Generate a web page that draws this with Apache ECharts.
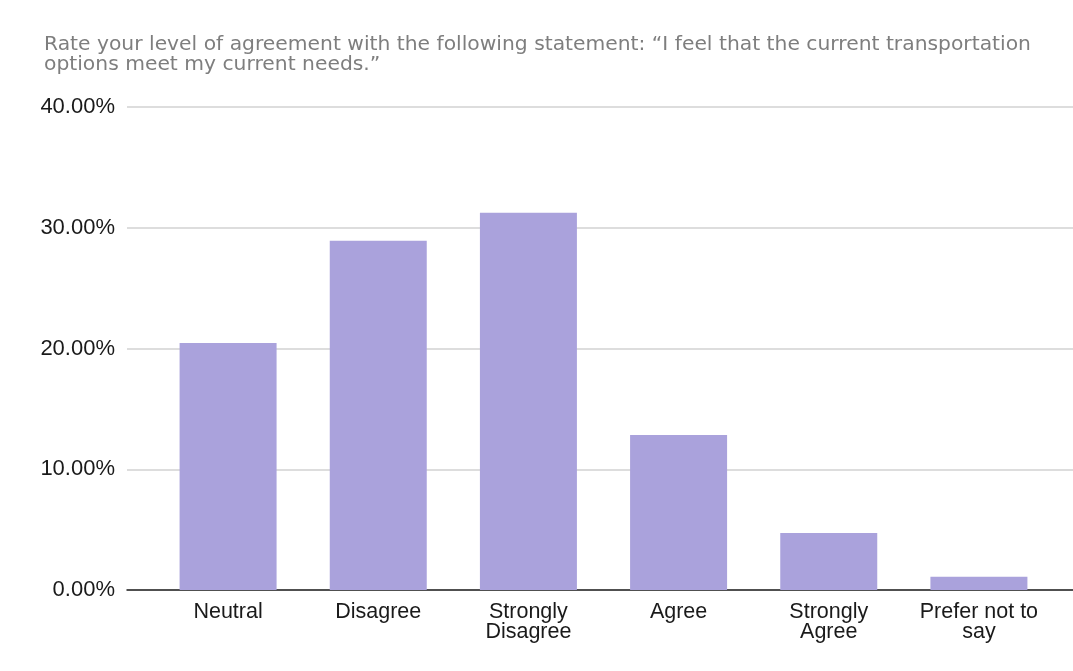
<!DOCTYPE html>
<html>
<head>
<meta charset="utf-8">
<script src="https://cdn.jsdelivr.net/npm/echarts@6/dist/echarts.min.js"></script>
<style>html,body{margin:0;padding:0;background:#fff;}#chart{width:1073px;height:671px;}</style>
</head>
<body>
<div id="chart"></div>
<script>
const titleText = 'Rate your level of agreement with the following statement: \u201CI feel that the current transportation\noptions meet my current needs.\u201D';
const categories = ['Neutral', 'Disagree', 'Strongly\nDisagree', 'Agree', 'Strongly\nAgree', 'Prefer not to\nsay'];
const percentages = [20.46, 28.93, 31.25, 12.84, 4.72, 1.10];
const yMin = 0, yMax = 40, yStep = 10;

const chart = echarts.init(document.getElementById('chart'));
chart.setOption({
  backgroundColor: '#ffffff',
  animation: false,
  title: {
    text: titleText,
    left: 39,
    top: 30,
    textStyle: { fontFamily: 'DejaVu Sans', fontSize: 20.3, fontWeight: 'normal', color: '#7e7e7e', lineHeight: 20 }
  },
  grid: [
    { left: 127, right: 0, top: 107, bottom: 81 },
    { left: 153, right: 19, top: 107, bottom: 81 }
  ],
  xAxis: [
    { gridIndex: 0, type: 'value', min: 0, max: 1, axisLabel: { show: false }, axisTick: { show: false }, splitLine: { show: false },
      axisLine: { show: true, lineStyle: { color: '#222', width: 1.5 } } },
    { gridIndex: 1, type: 'category', data: categories, axisLine: { show: false }, axisTick: { show: false },
      axisLabel: { margin: 12, fontFamily: 'Liberation Sans', fontSize: 21.5, lineHeight: 20, color: '#1a1a1a', interval: 0 } }
  ],
  yAxis: [
    { gridIndex: 0, type: 'value', min: yMin, max: yMax, interval: yStep,
      axisLine: { show: false }, axisTick: { show: false },
      axisLabel: { margin: 12, fontFamily: 'Liberation Sans', fontSize: 22, color: '#1a1a1a', formatter: v => v.toFixed(2) + '%' },
      splitLine: { lineStyle: { color: '#d2d2d2', width: 1.5 } } },
    { gridIndex: 1, type: 'value', min: yMin, max: yMax, interval: yStep, show: false, splitLine: { show: false } }
  ],
  series: [{
    type: 'bar',
    xAxisIndex: 1,
    yAxisIndex: 1,
    data: percentages,
    barWidth: 97,
    itemStyle: { color: '#aaa2dc' },
    z: 3
  }]
});
</script>
</body>
</html>
